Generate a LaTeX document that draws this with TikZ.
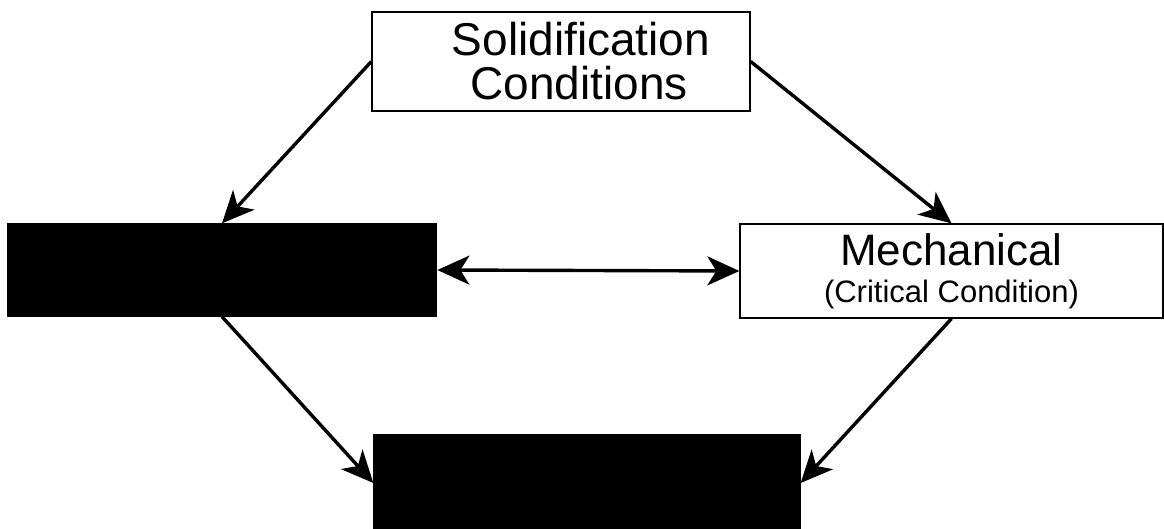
\documentclass[tikz,border=0pt]{standalone}
\usepackage{fontspec}
\setmainfont{Liberation Sans}
\usetikzlibrary{arrows.meta}
\tikzset{
  box/.style={draw=black, line width=1.3pt, rectangle, inner sep=0pt, align=center, text=black},
  darkbox/.style={box, fill=black, text=black},
  lightbox/.style={box, fill=white},
  arr/.style={line width=3.4pt, -{Stealth[length=32pt,width=29pt,inset=9pt]}},
  darr/.style={line width=3.4pt, {Stealth[length=32pt,width=29pt,inset=9pt]}-{Stealth[length=32pt,width=29pt,inset=9pt]}}
}
\begin{document}
\begin{tikzpicture}[x=1pt,y=-1pt]
\useasboundingbox (0,0) rectangle (1164,529);
\node[lightbox, minimum width=378pt, minimum height=99pt, font=\fontsize{46}{44}\selectfont] (top) at (561,61.5)
  {\hspace*{40pt}Solidification\\\hspace*{36pt}Conditions};
\node[darkbox, minimum width=427pt, minimum height=92pt, font=\fontsize{44}{37}\selectfont] (left) at (222,270)
  {Metallurgical\\{\fontsize{28}{32}\selectfont (Crack Susceptible Microstructure)}};
\node[lightbox, minimum width=423pt, minimum height=94pt, font=\fontsize{44}{37}\selectfont] (right) at (951.5,271)
  {Mechanical\\{\fontsize{31}{35}\selectfont (Critical Condition)}};
\node[darkbox, minimum width=426pt, minimum height=96pt, font=\fontsize{44}{44}\selectfont] (bot) at (587,483)
  {Hot Cracking};
\draw[arr] (top.west) -- (left.north);
\draw[arr] (top.east) -- (right.north);
\draw[darr] (left.east) -- (right.west);
\draw[arr] (left.south) -- (bot.west);
\draw[arr] (right.south) -- (bot.east);
\end{tikzpicture}
\end{document}
